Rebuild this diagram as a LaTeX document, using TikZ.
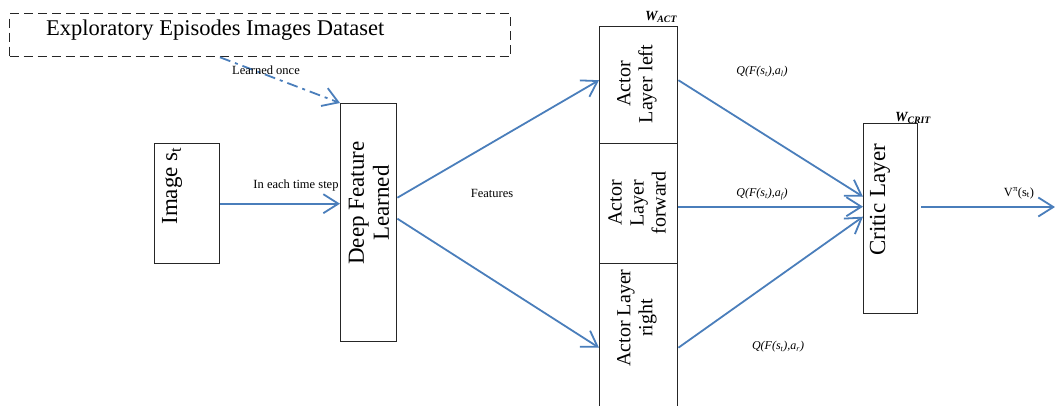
\documentclass[tikz,border=0pt]{standalone}
\usepackage{fontspec}
\setmainfont{Liberation Serif}
\usetikzlibrary{arrows.meta,calc}
\definecolor{arrowblue}{HTML}{4A7EBB}
\definecolor{boxline}{HTML}{262626}
\tikzset{
  box/.style={draw=boxline, line width=1.4pt, inner sep=0pt, anchor=north west},
  rtext/.style={rotate=90, align=center, inner sep=0pt, font=\fontsize{23}{25}\selectfont},
  atext/.style={rotate=90, align=center, inner sep=0pt, font=\fontsize{20}{22}\selectfont},
  lbl/.style={inner sep=0pt, font=\fontsize{12.5}{14}\selectfont},
  qlbl/.style={inner sep=0pt, font=\fontsize{12}{14}\selectfont\itshape},
  wlbl/.style={inner sep=0pt, font=\fontsize{14}{16}\selectfont\bfseries\itshape},
  flow/.style={draw=arrowblue, line width=1.8pt, -{Straight Barb[length=15pt,width=19pt,line width=1.8pt]}},
}
\begin{document}
\begin{tikzpicture}[x=1pt,y=-1pt]
\useasboundingbox (0,0) rectangle (1055,405);
\clip (0,0) rectangle (1055,405);

% dataset
\node[box, line width=1.3pt, dash pattern=on 9pt off 5pt, minimum width=501pt, minimum height=43pt] (data) at (9,13) {};
\node[anchor=base west, inner sep=0pt, font=\fontsize{22.5}{25}\selectfont] (datatxt) at (46,35) {Exploratory Episodes Images Dataset};

% boxes
\node[box, minimum width=65pt, minimum height=120pt] (img) at (154,143) {};
\node[rtext] (imgtxt) at (172,186) {Image s\textsubscript{t}};

\node[box, minimum width=56pt, minimum height=238pt] (deep) at (340,103) {};
\node[rtext] (deeptxt) at (369,203) {Deep Feature\\Learned};

\node[box, minimum width=78pt, minimum height=117pt] (actL) at (599,26) {};
\node[atext] (actLtxt) at (637,84) {Actor\\Layer left};

\node[box, minimum width=78pt, minimum height=120pt] (actF) at (599,143) {};
\node[atext] (actFtxt) at (637,203) {Actor\\Layer\\forward};

\node[box, minimum width=78pt, minimum height=150pt] (actR) at (599,263) {};
\node[atext] (actRtxt) at (637,318) {Actor Layer\\right};

\node[box, minimum width=54pt, minimum height=190pt] (critic) at (863,123) {};
\node[rtext] (crittxt) at (880,200) {Critic Layer};

% weight labels
\node[wlbl] (wact) at (661,17) {W\textsubscript{ACT}};
\node[wlbl] (wcrit) at (913,118) {W\textsubscript{CRIT}};

% connectors
\draw[flow, dash pattern=on 11pt off 5pt on 3pt off 5pt] ([xshift=211pt]data.south west) -- (deep.north west);
\draw[flow] (img.east) -- (deep.west |- img.east);
\draw[flow] ([yshift=25pt]deep.east) -- ([yshift=5pt]actL.west);
\draw[flow] ([yshift=4pt]deep.east) -- ([yshift=-9pt]actR.west);
\draw[flow] ([yshift=5pt]actL.east) -- ([yshift=22pt]critic.west);
\draw[flow] ([yshift=-3pt]actF.east) -- ([yshift=12pt]critic.west);
\draw[flow] ([yshift=-9pt]actR.east) -- ([yshift=2pt]critic.west);
\coordinate (out) at (1055,207);
\draw[flow] ([xshift=3pt]critic.east |- out) -- (out);

% labels
\node[lbl] (lonce) at (266,70) {Learned once};
\node[lbl] (ltime) at (296,185) {In each time step};
\node[lbl] (lfeat) at (492,193) {Features};
\node[qlbl] (ql) at (762,72) {Q(F(s\textsubscript{t}),a\textsubscript{l})};
\node[qlbl] (qf) at (762,194) {Q(F(s\textsubscript{t}),a\textsubscript{f})};
\node[qlbl] (qr) at (778,347) {Q(F(s\textsubscript{t}),a\textsubscript{r})};
\node[lbl] (vout) at (1019,193) {V\textsuperscript{π}(s\textsubscript{t})};
\end{tikzpicture}
\end{document}
